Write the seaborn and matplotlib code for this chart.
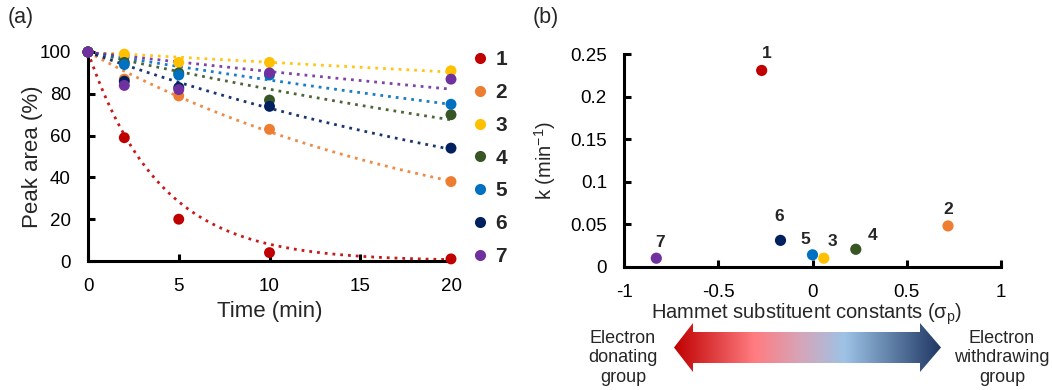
import matplotlib
matplotlib.use("Agg")
import matplotlib.pyplot as plt
import seaborn as sns
import pandas as pd
import numpy as np
from matplotlib.colors import LinearSegmentedColormap
from matplotlib.lines import Line2D
from matplotlib.patches import Polygon

sns.set_style("white")
plt.rcParams["font.family"] = ["Liberation Sans", "DejaVu Sans"]
plt.rcParams["mathtext.fontset"] = "custom"
plt.rcParams["mathtext.rm"] = "Liberation Sans"
plt.rcParams["mathtext.it"] = "Liberation Sans:italic"

# --- data, panel (a): peak area vs time ---
compounds = ["1", "2", "3", "4", "5", "6", "7"]
colors = ["#C00000", "#ED7D31", "#FFC000", "#375623", "#0070C0", "#002060", "#7030A0"]
time_min = [0, 2, 5, 10, 20]
peak_1 = [100, 59, 20, 4, 1]
peak_2 = [100, 87, 79, 63, 38]
peak_3 = [100, 99, 95, 95, 91]
peak_4 = [100, 95, 90, 77, 70]
peak_5 = [100, 94, 89, 89, 75]
peak_6 = [100, 86, 83, 74, 54]
peak_7 = [100, 84, 82, 90, 87]

# --- data, panel (b): rate constant vs Hammett sigma_p ---
sigma_p = [-0.27, 0.72, 0.06, 0.23, 0.00, -0.17, -0.83]
k_rate = [0.231, 0.048, 0.010, 0.0205, 0.014, 0.031, 0.010]
# label offsets from each point, in points
label_offsets = [(4, 12), (0, 12), (6, 12), (12, 10), (-5, 11), (-1, 17), (3, 11)]

peaks = [peak_1, peak_2, peak_3, peak_4, peak_5, peak_6, peak_7]
df_a = pd.DataFrame([(c, t, y) for c, ys in zip(compounds, peaks) for t, y in zip(time_min, ys)],
                    columns=["compound", "time", "peak"])
df_b = pd.DataFrame({"compound": compounds, "sigma": sigma_p, "k": k_rate})
palette = dict(zip(compounds, colors))

fig = plt.figure(figsize=(10.52, 3.9), dpi=100)
W, H = 1052, 390


def px_axes(left, right, top, bottom):
    return fig.add_axes([left / W, 1 - bottom / H, (right - left) / W, (bottom - top) / H])


def style_axes(ax):
    sns.despine(ax=ax)
    for side in ["left", "bottom"]:
        ax.spines[side].set_linewidth(2.2)
        ax.spines[side].set_color("black")
    ax.tick_params(direction="in", length=5, width=2.2, labelsize=13.5, pad=12.5,
                   colors="black", left=True, bottom=True)
    ax.grid(False)


# --- panel (a) ---
ax1 = px_axes(88, 451, 52, 261)
t_fit = np.linspace(0, 20, 200)
for c, ys in zip(compounds, peaks):
    t = np.array(time_min[1:], float)
    y = np.array(ys[1:], float)
    # exponential trendline through 100 at t=0
    k = -np.sum(t * np.log(y / 100)) / np.sum(t ** 2)
    sns.lineplot(x=t_fit, y=100 * np.exp(-k * t_fit), ax=ax1, color=palette[c],
                 linestyle=(0, (1, 1.8)), linewidth=2, zorder=1, alpha=0.9)
sns.scatterplot(data=df_a, x="time", y="peak", hue="compound", palette=palette, ax=ax1,
                s=62, linewidth=0, legend=False, zorder=3, clip_on=False)
ax1.set_xlim(0, 20)
ax1.set_ylim(0, 100)
ax1.set_xticks([0, 5, 10, 15, 20])
ax1.set_yticks([0, 20, 40, 60, 80, 100])
style_axes(ax1)
ax1.set_xlabel("Time (min)", fontsize=16)
ax1.set_ylabel("Peak area (%)", fontsize=16)
ax1.xaxis.set_label_coords(0.5, -0.19)
ax1.yaxis.set_label_coords(-0.125, 0.5)

handles = [Line2D([], [], marker="o", linestyle="", markersize=8, markerfacecolor=col,
                  markeredgewidth=0) for col in colors]
ax1.legend(handles, compounds, loc="upper left", bbox_to_anchor=(461 / W, 1 - 40 / H),
           bbox_transform=fig.transFigure, frameon=False,
           prop={"weight": "bold", "size": 15}, labelspacing=0.66,
           handlelength=0.8, handletextpad=0.35, borderpad=0)

# --- panel (b) ---
ax2 = px_axes(624.3, 1000.7, 54.3, 266.7)
sns.scatterplot(data=df_b, x="sigma", y="k", hue="compound", palette=palette, ax=ax2,
                s=65, linewidth=0, legend=False, zorder=3, clip_on=False)
for c, x, y, off in zip(compounds, sigma_p, k_rate, label_offsets):
    ax2.annotate(c, (x, y), xytext=off, textcoords="offset points", ha="center",
                 va="center", fontsize=12.5, fontweight="bold")
ax2.set_xlim(-1, 1)
ax2.set_ylim(0, 0.25)
ax2.set_xticks([-1, -0.5, 0, 0.5, 1])
ax2.set_xticklabels(["-1", "-0.5", "0", "0.5", "1"])
ax2.set_yticks([0, 0.05, 0.1, 0.15, 0.2, 0.25])
ax2.set_yticklabels(["0", "0.05", "0.1", "0.15", "0.2", "0.25"])
style_axes(ax2)
ax2.set_xlabel("Hammet substituent constants (σ$_\\mathrm{p}$)", fontsize=14.5)
ax2.set_ylabel("k (min$^{-1}$)", fontsize=14.5)
ax2.xaxis.set_label_coords(0.485, -0.165)
ax2.yaxis.set_label_coords(-0.175, 0.5)

# --- gradient double arrow under panel (b) ---
ov = fig.add_axes([0, 0, 1, 1], facecolor="none")
ov.set_xlim(0, W)
ov.set_ylim(H, 0)
ov.axis("off")
arrow_pts = [(674, 347.5), (693, 323), (693, 332), (920, 332), (920, 323), (941, 347.5),
             (920, 372), (920, 363), (693, 363), (693, 372)]
arrow = Polygon(arrow_pts, closed=True, facecolor="none", edgecolor="none")
ov.add_patch(arrow)
cmap = LinearSegmentedColormap.from_list(
    "ed", [(0, "#C00000"), (0.3, "#FF7C80"), (0.48, "#D4A6BA"), (0.64, "#9DC3E6"), (1, "#1F3864")])
grad = np.linspace(0, 1, 256).reshape(1, -1)
im = ov.imshow(grad, cmap=cmap, aspect="auto", extent=[674, 941, 372, 323])
im.set_clip_path(arrow)

ov.text(623, 358, "Electron\ndonating\ngroup", ha="center", va="center", fontsize=13,
        linespacing=1.2)
ov.text(1002, 358, "Electron\nwithdrawing\ngroup", ha="center", va="center", fontsize=13,
        linespacing=1.2)
ov.text(8, 18, "(a)", ha="left", va="center", fontsize=15.5)
ov.text(533, 18, "(b)", ha="left", va="center", fontsize=15.5)

plt.savefig("out.png", dpi=100)
plt.close()
